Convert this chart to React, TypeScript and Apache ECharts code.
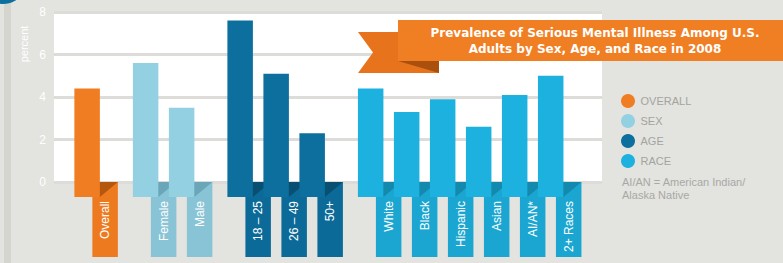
import React, { useEffect, useRef } from 'react';
import * as echarts from 'echarts';

// ---- data ----
const groupNames = ['OVERALL', 'SEX', 'AGE', 'RACE'];
const overallLabels = ['Overall'];
const overallValues = [4.4];
const sexLabels = ['Female', 'Male'];
const sexValues = [5.6, 3.5];
const ageLabels = ['18 – 25', '26 – 49', '50+'];
const ageValues = [7.6, 5.1, 2.3];
const raceLabels = ['White', 'Black', 'Hispanic', 'Asian', 'AI/AN*', '2+ Races'];
const raceValues = [4.4, 3.3, 3.9, 2.6, 4.1, 5.0];
const yTicks = [0, 2, 4, 6, 8];

const titleLines = ['Prevalence of Serious Mental Illness Among U.S.', 'Adults by Sex, Age, and Race in 2008'];
const noteText = 'AI/AN = American Indian/\nAlaska Native';

// ---- styles ----
const barColors = ['#f07d21', '#93d0e2', '#0c6f9e', '#1cb1de'];
const tabColors = ['#ee7a20', '#89c4d6', '#0b6a97', '#1aa6d1'];
const foldColors = ['#b4580f', '#6aa6b8', '#084f72', '#1389ae'];

const groups = [
  { labels: overallLabels, values: overallValues },
  { labels: sexLabels, values: sexValues },
  { labels: ageLabels, values: ageValues },
  { labels: raceLabels, values: raceValues },
];

const GROUP_GAP = 0.625;
const BAR_W = 25.5;
const TAB_OFFSET = 18;
const BAR_EXT = 15;
const TAB_LEN = 75;

export default function App() {
  const ref = useRef<HTMLDivElement>(null);
  useEffect(() => {
    if (!ref.current) return;
    const chart = echarts.init(ref.current, undefined, { renderer: 'svg' });
    let idx = 0;
    const series = groups.map((g, gi) => {
      const data = g.values.map((v, i) => {
        const pos = idx + gi * GROUP_GAP;
        idx++;
        return [pos, v, i];
      });
      return {
        type: 'custom',
        name: groupNames[gi],
        clip: false,
        itemStyle: { color: barColors[gi] },
        data,
        renderItem: (params: any, api: any) => {
          const x = api.value(0);
          const v = api.value(1);
          const li = api.value(2);
          const top = api.coord([x, v]);
          const base = api.coord([x, 0]);
          const left = top[0] - BAR_W / 2;
          const y0 = base[1];
          const tabLeft = left + TAB_OFFSET;
          return {
            type: 'group',
            children: [
              {
                type: 'rect',
                shape: { x: tabLeft, y: y0, width: BAR_W, height: TAB_LEN },
                style: { fill: tabColors[gi] },
              },
              {
                type: 'rect',
                shape: { x: left, y: top[1], width: BAR_W, height: y0 + BAR_EXT - top[1] },
                style: { fill: barColors[gi] },
              },
              {
                type: 'polygon',
                shape: {
                  points: [
                    [left + BAR_W, y0],
                    [tabLeft + BAR_W, y0],
                    [left + BAR_W, y0 + BAR_EXT],
                  ],
                },
                style: { fill: foldColors[gi] },
              },
              {
                type: 'text',
                x: tabLeft + BAR_W / 2,
                y: y0 + 19,
                rotation: Math.PI / 2,
                style: {
                  text: g.labels[li],
                  fill: '#ffffff',
                  font: '12px "Liberation Sans", Arial, sans-serif',
                  align: 'right',
                  verticalAlign: 'middle',
                },
              },
            ],
          };
        },
      };
    });

    chart.setOption({
      animation: false,
      backgroundColor: '#e3e3df',
      title: {
        text: titleLines.join('\n'),
        left: 595,
        top: 25,
        textAlign: 'center',
        padding: 0,
        textStyle: {
          color: '#ffffff',
          fontSize: 12,
          fontWeight: 'bold',
          fontFamily: '"DejaVu Sans", Verdana, sans-serif',
          lineHeight: 16,
        },
        z: 10,
      },
      legend: {
        data: groupNames,
        orient: 'vertical',
        left: 621,
        top: 94,
        padding: 0,
        icon: 'circle',
        itemWidth: 15,
        itemHeight: 14,
        itemGap: 6,
        selectedMode: false,
        textStyle: { color: '#a3a3a0', fontSize: 11, fontFamily: '"Liberation Sans", Arial, sans-serif' },
      },
      grid: {
        left: 54,
        right: 181,
        top: 12,
        bottom: 81,
        show: true,
        backgroundColor: '#ffffff',
        borderWidth: 0,
      },
      xAxis: {
        type: 'value',
        min: -0.92,
        max: 14.3,
        show: false,
        splitLine: { show: false },
      },
      yAxis: {
        type: 'value',
        min: yTicks[0],
        max: yTicks[yTicks.length - 1],
        interval: 2,
        axisLine: { show: false },
        axisTick: { show: false },
        axisLabel: {
          color: '#ffffff',
          fontSize: 12,
          margin: 8,
          fontFamily: '"Liberation Sans", Arial, sans-serif',
        },
        splitLine: { lineStyle: { color: '#dddcd8', width: 3 } },
      },
      graphic: [
        { type: 'rect', shape: { x: 4, y: 0, width: 7, height: 263 }, style: { fill: '#d5d5d0' }, z: 0 },
        { type: 'circle', shape: { cx: 3, cy: -20, r: 24 }, style: { fill: '#0c6f9e' } },
        {
          type: 'text',
          x: 24,
          y: 44,
          rotation: Math.PI / 2,
          style: {
            text: 'percent',
            fill: '#ffffff',
            font: '11px "Liberation Sans", Arial, sans-serif',
            align: 'center',
            verticalAlign: 'middle',
          },
        },
        {
          type: 'polygon',
          shape: { points: [[358, 32], [439, 32], [439, 73], [358, 73], [373, 52.5]] },
          style: { fill: '#e8731d' },
          z: 5,
        },
        {
          type: 'polygon',
          shape: { points: [[398, 61], [439, 61], [439, 73]] },
          style: { fill: '#a9500f' },
          z: 6,
        },
        {
          type: 'rect',
          shape: { x: 398, y: 20, width: 385, height: 41 },
          style: { fill: '#f07e22' },
          z: 7,
        },
        {
          type: 'text',
          x: 622,
          y: 175,
          style: {
            text: noteText,
            fill: '#a8a8a5',
            font: '11px "Liberation Sans", Arial, sans-serif',
            lineHeight: 13,
          },
        },
      ],
      series,
    });
    return () => chart.dispose();
  }, []);
  return (
    <div
      ref={ref}
      style={{ position: 'fixed', left: 0, top: 0, width: 783, height: 263 }}
    />
  );
}
